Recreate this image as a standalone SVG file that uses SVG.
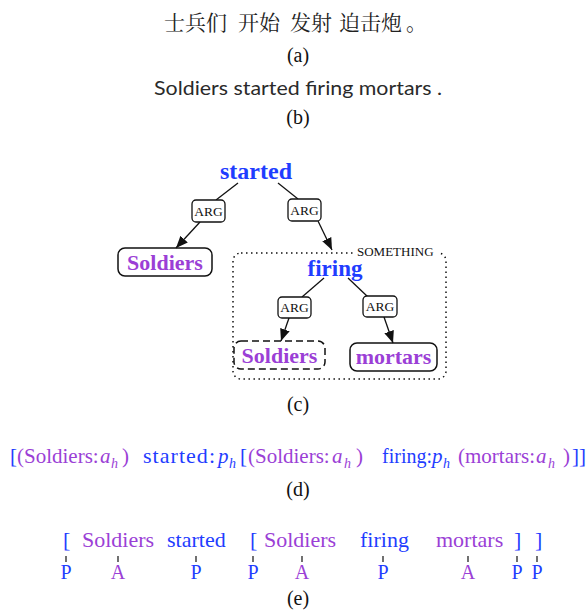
<svg xmlns="http://www.w3.org/2000/svg" width="588" height="610" viewBox="0 0 588 610">
<defs>
<style>
.serif{font-family:'Liberation Serif',Tinos,'Noto Serif','DejaVu Serif',serif}
.cjk{font-family:'Noto Serif CJK SC','Noto Sans CJK SC',sans-serif}
.opt{font-family:Lato,'Liberation Sans',sans-serif}
.blue{fill:#1f3dff}
.purple{fill:#9b3fd6}
.cap{font-family:'Liberation Serif',Tinos,'Noto Serif','DejaVu Serif',serif;font-size:20px;fill:#111;text-anchor:middle}
.node{font-family:'Liberation Serif',Tinos,'Noto Serif','DejaVu Serif',serif;font-weight:bold;text-anchor:middle}
.box{fill:none;stroke:#111;stroke-width:1.5}
.arg{fill:#fff;stroke:#111;stroke-width:1.3}
.argt{font-family:'Liberation Serif',Tinos,'Noto Serif','DejaVu Serif',serif;font-size:13.5px;fill:#111;text-anchor:middle}
.edge{stroke:#111;stroke-width:1.3;fill:none}
.tick{stroke:#111;stroke-width:1.2}
.sub{font-size:14px;font-style:italic}
.it{font-style:italic}
.lbl{font-family:'Liberation Serif',Tinos,'Noto Serif','DejaVu Serif',serif;font-size:20px;text-anchor:middle}
</style>
<marker id="arr" viewBox="0 0 12 10" refX="12" refY="5" markerWidth="12" markerHeight="10" markerUnits="userSpaceOnUse" orient="auto">
<path d="M0,0 L12,5 L0,10 z" fill="#111"/>
</marker>
</defs>
<rect width="588" height="610" fill="#fff"/>

<!-- (a) -->
<g id="a">
<text class="cjk" font-size="21" fill="#222" y="30"><tspan x="164">士兵们</tspan><tspan x="238">开始</tspan><tspan x="290">发射</tspan><tspan x="339">迫击炮</tspan><tspan x="406">。</tspan></text>
<text class="cap" x="298" y="62">(a)</text>
</g>

<!-- (b) -->
<g id="b">
<text class="opt" font-size="20" fill="#2a2a2a" x="154" y="95" textLength="288" lengthAdjust="spacingAndGlyphs">Soldiers started firing mortars .</text>
<text class="cap" x="298" y="124">(b)</text>
</g>

<!-- (c) tree -->
<g id="connectors">
<line class="edge" x1="238" y1="183" x2="216" y2="200"/>
<line class="edge" x1="278" y1="183" x2="298" y2="199"/>
<line class="edge" x1="200" y1="222" x2="176" y2="248" marker-end="url(#arr)"/>
<line class="edge" x1="318" y1="221" x2="332" y2="250" marker-end="url(#arr)"/>
<line class="edge" x1="324" y1="278" x2="302" y2="297"/>
<line class="edge" x1="348" y1="278" x2="368" y2="297"/>
<line class="edge" x1="289" y1="318" x2="281" y2="341" marker-end="url(#arr)"/>
<line class="edge" x1="384" y1="317" x2="393" y2="343" marker-end="url(#arr)"/>
</g>

<g id="something">
<rect x="233" y="253" width="213" height="126" rx="8" fill="none" stroke="#111" stroke-width="1.5" stroke-dasharray="1.5,3.5"/>
<rect x="354" y="244" width="84" height="14" fill="#fff"/>
<text class="serif" font-size="13" fill="#111" x="357" y="256">SOMETHING</text>
</g>

<g id="started">
<text class="node blue" font-size="24" x="256" y="179">started</text>
</g>
<g id="arg1">
<rect class="arg" x="192" y="200" width="33" height="22" rx="4"/>
<text class="argt" x="208.5" y="215.5">ARG</text>
</g>
<g id="arg2">
<rect class="arg" x="288" y="199" width="33" height="22" rx="4"/>
<text class="argt" x="304.5" y="214.5">ARG</text>
</g>
<g id="soldiers1">
<rect class="box" x="118" y="248" width="94" height="28" rx="7"/>
<text class="node purple" font-size="22" x="165" y="270">Soldiers</text>
</g>
<g id="firing">
<text class="node blue" font-size="23" x="335" y="276">firing</text>
</g>
<g id="arg3">
<rect class="arg" x="278" y="297" width="33" height="21" rx="4"/>
<text class="argt" x="294.5" y="312">ARG</text>
</g>
<g id="arg4">
<rect class="arg" x="363" y="296" width="34" height="21" rx="4"/>
<text class="argt" x="380" y="311">ARG</text>
</g>
<g id="soldiers2">
<rect class="box" x="234" y="341" width="91" height="28" rx="7" stroke-dasharray="7,4"/>
<text class="node purple" font-size="22" x="279.5" y="363">Soldiers</text>
</g>
<g id="mortars">
<rect class="box" x="350" y="343" width="87" height="28" rx="7"/>
<text class="node purple" font-size="22" x="393.5" y="364">mortars</text>
</g>
<text class="cap" x="298" y="411">(c)</text>

<!-- (d) -->
<g id="d" class="serif" font-size="21">
<text class="blue" x="10" y="463">[</text>
<text class="purple" x="17" y="463">(Soldiers:</text>
<text class="purple it" x="100" y="463">a</text>
<text class="purple sub" x="111" y="468">h</text>
<text class="purple" x="122" y="463">)</text>
<text class="blue" x="143" y="463" font-size="22" textLength="72" lengthAdjust="spacing">started:</text>
<text class="blue it" x="218" y="463">p</text>
<text class="blue sub" x="229" y="468">h</text>
<text class="blue" x="240" y="463">[</text>
<text class="purple" x="248" y="463">(Soldiers:</text>
<text class="purple it" x="332" y="463">a</text>
<text class="purple sub" x="344" y="468">h</text>
<text class="purple" x="356" y="463">)</text>
<text class="blue" x="382" y="463" font-size="20">firing:</text>
<text class="blue it" x="432" y="463">p</text>
<text class="blue sub" x="443" y="468">h</text>
<text class="purple" x="458" y="463">(mortars:</text>
<text class="purple it" x="536" y="463">a</text>
<text class="purple sub" x="548" y="468">h</text>
<text class="purple" x="563" y="463">)</text>
<text class="blue" x="572" y="463">]]</text>
<text class="cap" x="298" y="496">(d)</text>
</g>

<!-- (e) -->
<g id="e" class="serif" font-size="22">
<text y="547" class="blue" x="63">[</text>
<text y="547" class="purple" x="82">Soldiers</text>
<text y="547" class="blue" x="167">started</text>
<text y="547" class="blue" x="250">[</text>
<text y="547" class="purple" x="264">Soldiers</text>
<text y="547" class="blue" x="360">firing</text>
<text y="547" class="purple" x="436">mortars</text>
<text y="547" class="blue" x="514">]</text>
<text y="547" class="blue" x="535">]</text>
<g class="ticks">
<line class="tick" x1="66" y1="556" x2="66" y2="562"/>
<line class="tick" x1="118" y1="556" x2="118" y2="562"/>
<line class="tick" x1="196" y1="556" x2="196" y2="562"/>
<line class="tick" x1="253" y1="556" x2="253" y2="562"/>
<line class="tick" x1="302" y1="556" x2="302" y2="562"/>
<line class="tick" x1="383" y1="556" x2="383" y2="562"/>
<line class="tick" x1="468" y1="556" x2="468" y2="562"/>
<line class="tick" x1="517" y1="556" x2="517" y2="562"/>
<line class="tick" x1="537" y1="556" x2="537" y2="562"/>
</g>
<text class="lbl blue" x="66" y="579">P</text>
<text class="lbl purple" x="118" y="579">A</text>
<text class="lbl blue" x="196" y="579">P</text>
<text class="lbl blue" x="253" y="579">P</text>
<text class="lbl purple" x="302" y="579">A</text>
<text class="lbl blue" x="383" y="579">P</text>
<text class="lbl purple" x="468" y="579">A</text>
<text class="lbl blue" x="517" y="579">P</text>
<text class="lbl blue" x="537" y="579">P</text>
<text class="cap" x="298" y="605">(e)</text>
</g>
</svg>
